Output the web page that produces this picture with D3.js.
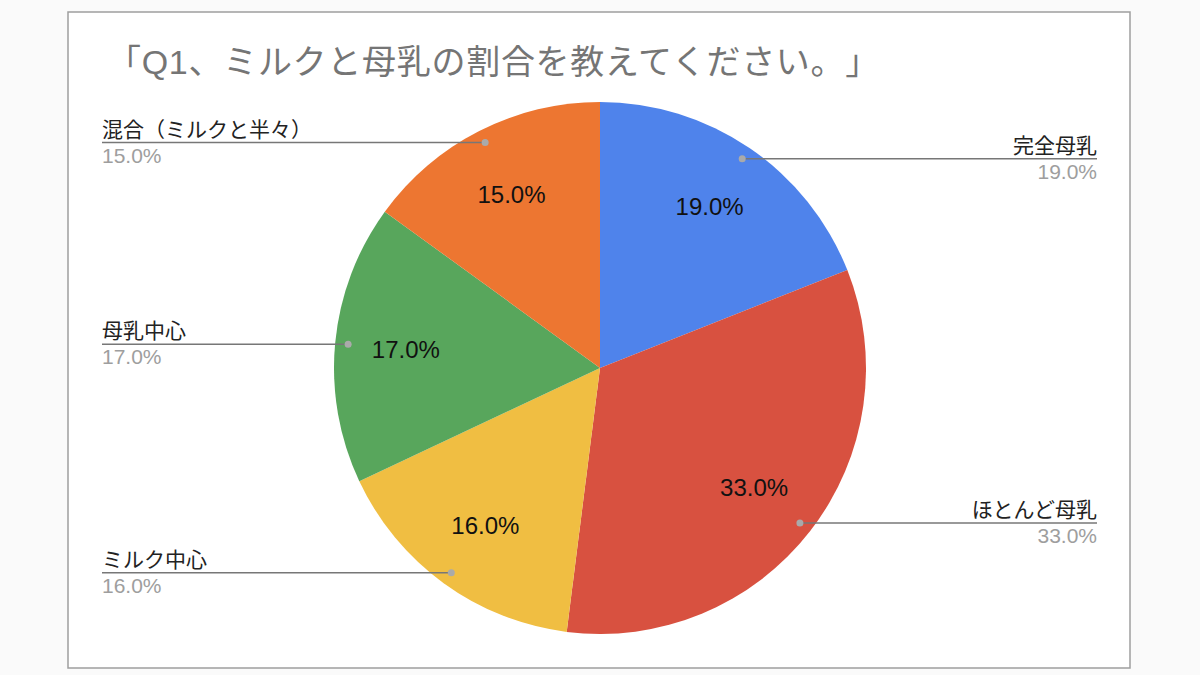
<!DOCTYPE html>
<html>
<head>
<meta charset="utf-8">
<script src="https://cdn.jsdelivr.net/npm/d3@7"></script>
<style>
  html, body { margin: 0; padding: 0; background: #fafafa; }
  svg { display: block; }
  text { font-family: "Liberation Sans", Arial, "Noto Sans CJK JP", sans-serif; text-spacing-trim: space-all; }
</style>
</head>
<body>
<script>
// ---------------- data ----------------
const categories = ['完全母乳', 'ほとんど母乳', 'ミルク中心', '母乳中心', '混合（ミルクと半々）'];
const values = [19, 33, 16, 17, 15];
const colors = ['#4f83eb', '#d85140', '#f0be42', '#58a65c', '#ed7631'];
const titleText = '「Q1、ミルクと母乳の割合を教えてください。」';

// ---------------- layout ----------------
const width = 1200, height = 675;
const cx = 600, cy = 368, R = 266;

const svg = d3.select('body').append('svg')
	.attr('width', width)
	.attr('height', height);

// chart frame
svg.append('rect')
	.attr('x', 68).attr('y', 12)
	.attr('width', 1062).attr('height', 656)
	.attr('fill', '#fff')
	.attr('stroke', '#9e9e9e')
	.attr('stroke-width', 1.5);

const title = svg.append('text')
	.attr('x', 107)
	.attr('y', 74)
	.attr('font-size', 34)
	.attr('fill', '#757575')
	.text(titleText);

// stretch the title to the width it has in the original (full-width punctuation)
const tw = title.node().getComputedTextLength();
const targetW = 880 - 107;
if (tw < targetW - 4) {
	title.attr('letter-spacing', (targetW - tw) / titleText.length);
}

const data = categories.map((c, i) => ({ name: c, value: values[i], color: colors[i] }));
const total = d3.sum(values);

const pie = d3.pie().sort(null).value((d) => d.value);
const arcs = pie(data);

const arc = d3.arc().innerRadius(0).outerRadius(R);
const labelArc = d3.arc().innerRadius(195).outerRadius(195);
const dotArc = d3.arc().innerRadius(253).outerRadius(253);

const g = svg.append('g').attr('transform', `translate(${cx},${cy})`);

g.selectAll('path.slice')
	.data(arcs)
	.join('path')
	.attr('class', 'slice')
	.attr('d', arc)
	.attr('fill', (d) => d.data.color);

const fmt = (v) => `${((v / total) * 100).toFixed(1)}%`;

// inner percentage labels
g.selectAll('text.inner')
	.data(arcs)
	.join('text')
	.attr('class', 'inner')
	.attr('transform', (d) => `translate(${labelArc.centroid(d)})`)
	.attr('text-anchor', 'middle')
	.attr('dy', '0.35em')
	.attr('font-size', 24)
	.attr('fill', '#111')
	.text((d) => fmt(d.data.value));

// callouts
const leftX = 102 - cx, rightX = 1097 - cx;
const callouts = g.append('g');

arcs.forEach((d) => {
	const [px, py] = dotArc.centroid(d);
	const right = px > 0;
	const ex = right ? rightX : leftX;
	callouts.append('line')
		.attr('x1', px).attr('y1', py)
		.attr('x2', ex).attr('y2', py)
		.attr('stroke', '#777')
		.attr('stroke-width', 1.5);
	callouts.append('circle')
		.attr('cx', px).attr('cy', py)
		.attr('r', 3.5)
		.attr('fill', '#aaa');
	callouts.append('text')
		.attr('x', ex).attr('y', py - 6)
		.attr('text-anchor', right ? 'end' : 'start')
		.attr('font-size', 21)
		.attr('fill', '#222')
		.text(d.data.name);
	callouts.append('text')
		.attr('x', ex).attr('y', py + 20)
		.attr('text-anchor', right ? 'end' : 'start')
		.attr('font-size', 21)
		.attr('fill', '#9e9e9e')
		.text(fmt(d.data.value));
});
</script>
</body>
</html>
